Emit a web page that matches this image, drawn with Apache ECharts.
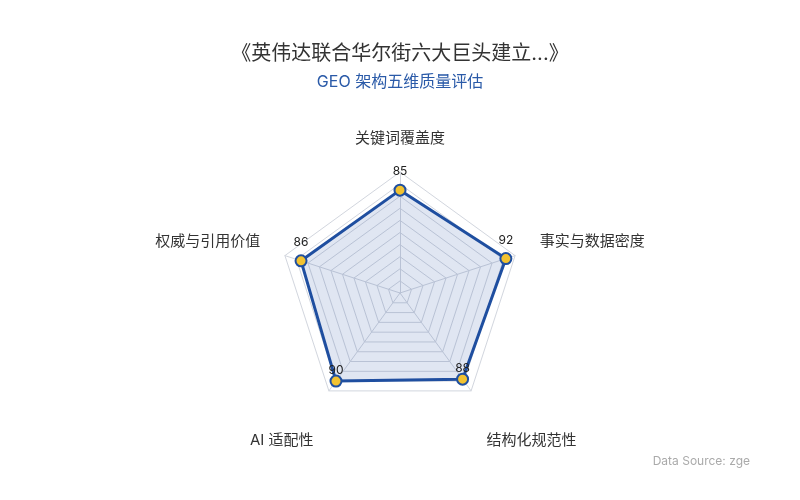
<!DOCTYPE html>
<html>
<head>
<meta charset="utf-8">
<script src="https://cdn.jsdelivr.net/npm/echarts@6/dist/echarts.min.js"></script>
<style>html,body{margin:0;padding:0;background:#fff}#c{width:800px;height:500px}</style>
</head>
<body>
<div id="c"></div>
<script>
var indicators = ['关键词覆盖度', '权威与引用价值', 'AI 适配性', '结构化规范性', '事实与数据密度'];
var scores = [85, 86, 90, 88, 92];
var maxScore = 100;
var titleText = '《英伟达联合华尔街六大巨头建立...》';
var subText = 'GEO 架构五维质量评估';
var sourceText = 'Data Source: zge';

var font = 'Inter, "Noto Sans CJK SC", sans-serif';

// which side of the radar an indicator sits on, from its angle
function placement(i) {
  var a = (90 + i * 360 / indicators.length) * Math.PI / 180;
  var s = Math.sin(a), c = Math.cos(a);
  if (s < -0.5) return 'down';
  if (Math.abs(c) > 0.5) return 'side';
  return 'top';
}

var chart = echarts.init(document.getElementById('c'));
chart.setOption({
  backgroundColor: '#fff',
  title: {
    text: titleText,
    subtext: subText,
    left: 'center',
    top: 39,
    itemGap: 10,
    textStyle: { fontSize: 20, fontWeight: 'normal', color: '#333', fontFamily: font },
    subtextStyle: { fontSize: 16, color: '#2a5aa8', fontFamily: font }
  },
  radar: {
    center: [400, 293],
    radius: 121,
    startAngle: 90,
    splitNumber: 10,
    shape: 'polygon',
    indicator: indicators.map(function (n) { return { name: n, max: maxScore }; }),
    nameGap: 26,
    axisName: {
      color: '#333', fontSize: 15, fontFamily: font,
      formatter: function (name) {
        return '{' + placement(indicators.indexOf(name)) + '|' + name + '}';
      },
      rich: {
        top: { color: '#333', fontSize: 15, fontFamily: font },
        side: { color: '#333', fontSize: 15, fontFamily: font, padding: [0, 0, 13, 0] },
        down: { color: '#333', fontSize: 15, fontFamily: font, padding: [58, 0, 0, 0] }
      }
    },
    splitLine: { lineStyle: { color: '#d2d6de', width: 1 } },
    splitArea: { show: false },
    axisLine: { lineStyle: { color: '#d2d6de' } }
  },
  series: [{
    type: 'radar',
    symbol: 'circle',
    symbolSize: 11,
    data: [{
      value: scores,
      lineStyle: { color: '#1f4fa0', width: 3 },
      areaStyle: { color: 'rgba(35,80,165,0.2)' },
      itemStyle: { color: '#f2c230', borderColor: '#1f4fa0', borderWidth: 2 },
      label: {
        show: true, position: 'top', distance: 6, color: '#222', fontSize: 12, fontFamily: font,
        formatter: function (p) {
          var i = scores.indexOf(p.value);
          return (placement(i) === 'down' ? '{d|' : '{n|') + p.value + '}';
        },
        rich: {
          n: { color: '#222', fontSize: 12, fontFamily: font },
          d: { color: '#222', fontSize: 12, fontFamily: font, lineHeight: 1, padding: [0, 0, -4, 0] }
        }
      }
    }]
  }],
  graphic: [{
    type: 'text',
    right: 50,
    top: 455,
    style: { text: sourceText, fill: '#aaa', fontSize: 12, fontFamily: font }
  }]
});
</script>
</body>
</html>
